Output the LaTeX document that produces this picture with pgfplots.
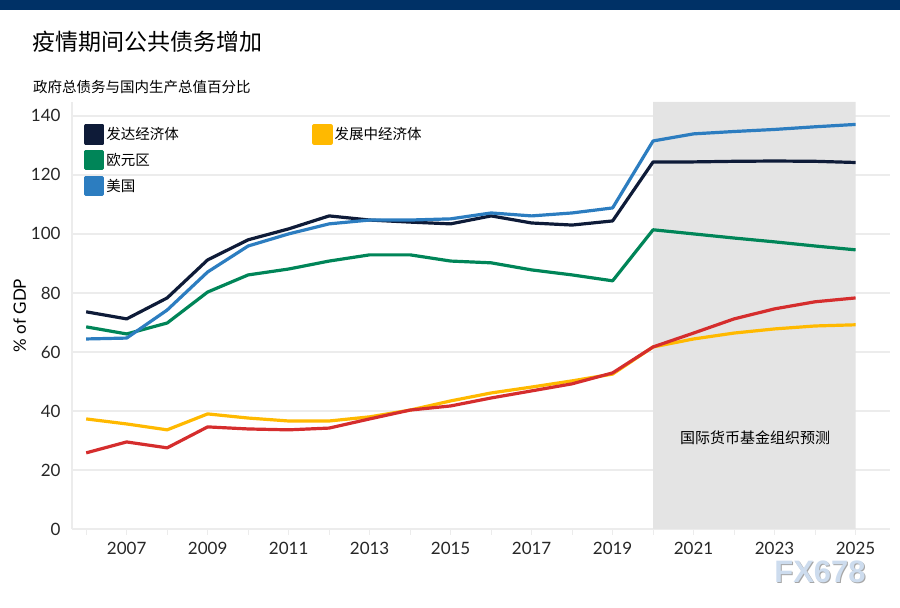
\documentclass[border=0pt]{standalone}
\usepackage{pgfplots}
\pgfplotsset{compat=1.18}
\usepackage{fontspec}
\setmainfont{Lato}
\newfontfamily\cjk{Noto Sans CJK SC}
\newfontfamily\wm{Liberation Sans}
\definecolor{topbar}{RGB}{0,49,102}
\definecolor{adv}{RGB}{14,27,56}
\definecolor{euro}{RGB}{0,133,88}
\definecolor{usa}{RGB}{44,125,192}
\definecolor{eme}{RGB}{255,185,0}
\definecolor{lic}{RGB}{213,45,45}
\definecolor{shade}{RGB}{228,228,228}
\definecolor{gridc}{RGB}{236,236,236}
\definecolor{wmc}{RGB}{205,220,238}
\begin{document}
\begin{tikzpicture}
\path[use as bounding box] (0,0) rectangle (900bp,608bp);
\fill[topbar] (0,598bp) rectangle (900bp,608bp);
\node[anchor=west, inner sep=0pt, font=\cjk\fontsize{23bp}{28bp}\selectfont] at (32bp,566bp) {疫情期间公共债务增加};
\node[anchor=west, inner sep=0pt, font=\cjk\fontsize{14.5bp}{18bp}\selectfont] at (33bp,521bp) {政府总债务与国内生产总值百分比};
\node[font=\wm\bfseries\fontsize{31bp}{34bp}\selectfont, text=black!35] at (821bp,35bp) {FX678};
\node[font=\wm\bfseries\fontsize{31bp}{34bp}\selectfont, text=wmc] at (820bp,36bp) {FX678};
\begin{axis}[
  at={(72bp,79bp)}, anchor=south west, scale only axis,
  width=818bp, height=427bp,
  xmin=2005.65, xmax=2025.85, ymin=0, ymax=144.7,
  axis x line*=bottom, axis y line*=left,
  axis line style={gridc, line width=1.2bp},
  xtick={2007,2009,...,2025},
  minor xtick={2006,2008,...,2024},
  ytick={0,20,...,140},
  ymajorgrids, grid style={gridc, line width=1.5bp},
  tick style={gridc, line width=1bp},
  major tick length=6bp, minor tick length=6bp,
  tick align=outside,
  ytick style={draw=none},
  /pgf/number format/assume math mode=true,
  /pgf/number format/1000 sep={},
  tick label style={font=\fontsize{17bp}{20bp}\selectfont, text=black!85},
  xticklabel style={yshift=-4bp},
  yticklabel style={xshift=-2bp},
  ylabel={\% of GDP},
  ylabel style={font=\fontsize{17bp}{20bp}\selectfont, yshift=-2bp},
  legend columns=2,
  legend cell align=left,
  legend style={at={(0.0147,0.948)}, anchor=north west, draw=none, fill=none,
    inner sep=0pt, row sep=5.5bp,
    font=\cjk\fontsize{14.5bp}{18bp}\selectfont},
  legend image code/.code={\fill[#1] (0bp,-8.5bp) rectangle (17bp,8.5bp);},
  every axis plot/.append style={line width=3.2bp, line join=round},
]
\addplot[fill=shade, draw=none, forget plot] coordinates {(2020,0) (2020,144.7) (2025,144.7) (2025,0)} \closedcycle;
\node[font=\cjk\fontsize{15bp}{18bp}\selectfont] at (axis cs:2022.52,30.8) {国际货币基金组织预测};

\addplot[adv] coordinates {
(2006,73.6)(2007,71.2)(2008,78.3)(2009,91.2)(2010,98.0)(2011,101.7)(2012,106.1)(2013,104.7)(2014,104.0)(2015,103.4)
(2016,106.1)(2017,103.7)(2018,103.0)(2019,104.4)(2020,124.4)(2021,124.4)(2022,124.6)(2023,124.7)(2024,124.6)(2025,124.2)};
\addlegendentry{\makebox[204bp][l]{发达经济体}}

\addplot[eme] coordinates {
(2006,37.3)(2007,35.6)(2008,33.6)(2009,39.0)(2010,37.6)(2011,36.6)(2012,36.6)(2013,38.0)(2014,40.3)(2015,43.4)
(2016,46.1)(2017,48.1)(2018,50.2)(2019,52.5)(2020,61.7)(2021,64.4)(2022,66.4)(2023,67.8)(2024,68.8)(2025,69.2)};
\addlegendentry{发展中经济体}

\addplot[euro] coordinates {
(2006,68.5)(2007,66.1)(2008,69.8)(2009,80.3)(2010,86.1)(2011,88.1)(2012,90.8)(2013,92.9)(2014,92.9)(2015,90.8)
(2016,90.2)(2017,87.8)(2018,86.1)(2019,84.1)(2020,101.4)(2021,100.0)(2022,98.6)(2023,97.3)(2024,95.9)(2025,94.6)};
\addlegendentry{欧元区}

\addlegendimage{empty legend}
\addlegendentry{}

\addplot[usa] coordinates {
(2006,64.4)(2007,64.7)(2008,74.2)(2009,87.1)(2010,95.9)(2011,100.0)(2012,103.4)(2013,104.7)(2014,104.7)(2015,105.1)
(2016,107.1)(2017,106.1)(2018,107.1)(2019,108.8)(2020,131.5)(2021,133.9)(2022,134.7)(2023,135.4)(2024,136.3)(2025,137.1)};
\addlegendentry{美国}

\addplot[lic, forget plot] coordinates {
(2006,25.8)(2007,29.5)(2008,27.5)(2009,34.6)(2010,33.9)(2011,33.6)(2012,34.2)(2013,37.3)(2014,40.3)(2015,41.7)
(2016,44.4)(2017,46.8)(2018,49.2)(2019,52.9)(2020,61.7)(2021,66.4)(2022,71.2)(2023,74.6)(2024,77.0)(2025,78.3)};
\end{axis}
\end{tikzpicture}
\end{document}
